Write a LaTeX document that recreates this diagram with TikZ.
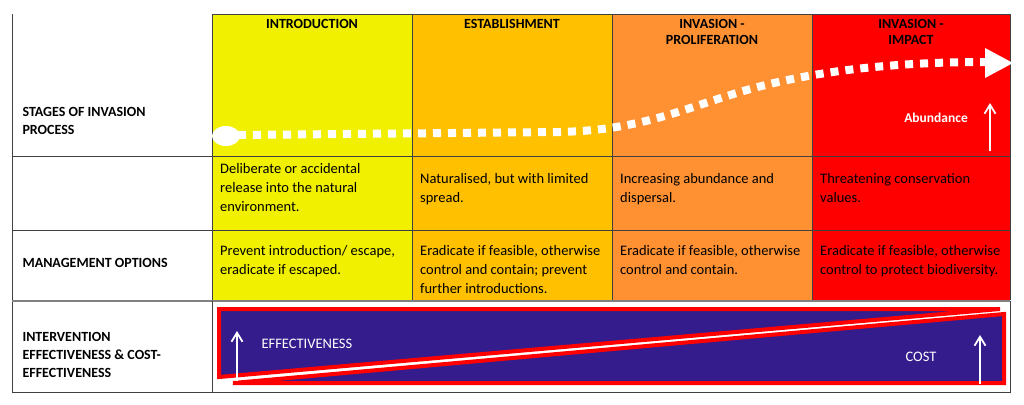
\documentclass[tikz,border=0pt]{standalone}
\usepackage{fontspec}
\setmainfont{Carlito}
\usetikzlibrary{arrows.meta}
\definecolor{cyel}{HTML}{F0F000}
\definecolor{cgold}{HTML}{FFC000}
\definecolor{corg}{HTML}{FF9133}
\definecolor{cred}{HTML}{FF0000}
\definecolor{cblue}{HTML}{341C8C}
\definecolor{cgrid}{HTML}{404040}
\begin{document}
\begin{tikzpicture}[x=1pt,y=-1pt,
  hdr/.style={font=\bfseries\fontsize{14}{16}\selectfont,align=center,anchor=north},
  lab/.style={font=\bfseries\fontsize{14}{18}\selectfont,align=left,anchor=west},
  txt/.style={font=\fontsize{14.5}{19}\selectfont,align=left,anchor=north west,inner sep=0pt},
  warrow/.style={white,line width=1.8pt,-{Straight Barb[length=9pt,width=11pt]}}]
\useasboundingbox (0,0) rectangle (1024,404);
\fill[white] (0,0) rectangle (1024,404);
\fill[cyel] (212,14) rectangle (412,300);
\fill[cgold] (412,14) rectangle (612,300);
\fill[corg] (612,14) rectangle (812,300);
\fill[cred] (812,14) rectangle (1010,300);
% grid
\draw[cgrid,line width=0.6pt] (212,14) -- (1010,14);
\foreach \x in {212,412,612,812,1010} \draw[cgrid,line width=0.6pt] (\x,14) -- (\x,300);
\draw[cgrid,line width=0.6pt] (12,14) -- (12,392);
\draw[cgrid,line width=0.6pt] (12,156) -- (1010,156);
\draw[cgrid,line width=0.6pt] (12,230) -- (1010,230);
\draw[gray,line width=1.5pt] (12,301) -- (1010,301);
\draw[cgrid,line width=0.6pt] (12,392) -- (1010,392) -- (1010,301);
\draw[cgrid,line width=0.6pt] (212,301) -- (212,392);
% headers
\node[hdr] (h1) at (312,16) {INTRODUCTION};
\node[hdr] (h2) at (512,16) {ESTABLISHMENT};
\node[hdr] (h3) at (712,16) {INVASION -\\PROLIFERATION};
\node[hdr] (h4) at (911,16) {INVASION -\\IMPACT};
% row labels
\node[lab] (l1) at (19,121) {STAGES OF INVASION\\PROCESS};
\node[lab] (l2) at (19,263) {MANAGEMENT OPTIONS};
\node[lab] (l3) at (19,355) {INTERVENTION\\EFFECTIVENESS \& COST-\\EFFECTIVENESS};
% descriptions
\node[txt] (d1) at (220,163) {Deliberate or accidental\\release into the natural\\environment.};
\node[txt] (d2) at (420,173) {Naturalised, but with limited\\spread.};
\node[txt] (d3) at (620,173) {Increasing abundance and\\dispersal.};
\node[txt] (d4) at (820,173) {Threatening conservation\\values.};
\node[txt] (m1) at (220,245) {Prevent introduction/ escape,\\eradicate if escaped.};
\node[txt] (m2) at (420,245) {Eradicate if feasible, otherwise\\control and contain; prevent\\further introductions.};
\node[txt] (m3) at (620,245) {Eradicate if feasible, otherwise\\control and contain.};
\node[txt] (m4) at (820,245) {Eradicate if feasible, otherwise\\control to protect biodiversity.};
% invasion curve
\fill[white] (226,136) ellipse (14pt and 10pt);
\coordinate (cs) at (238,135);
\coordinate (ce) at (985,62);
\draw[white,line width=8pt,dash pattern=on 8pt off 7pt] (cs) -- (560,132) .. controls (640,130) and (680,110) .. (740,92) .. controls (800,74) and (880,62) .. (ce);
\fill[white] (985,48) -- (1013,63) -- (985,78) -- cycle;
\node[font=\bfseries\fontsize{13.5}{15}\selectfont,text=white] (ab) at (936,118) {Abundance};
\coordinate (a1) at (990,151); \coordinate (a2) at (990,103);
\draw[warrow] (a1) -- (a2);
% intervention graphic
\draw[cred,line width=4pt,fill=cblue,line join=miter] (219,309) -- (1000,309) -- (219,377) -- cycle;
\draw[cred,line width=4pt,fill=cblue,line join=miter] (233,383) -- (1004,314) -- (1004,383) -- cycle;
\node[font=\fontsize{14.5}{16}\selectfont,text=white,anchor=west] (ef) at (258,344) {EFFECTIVENESS};
\node[font=\fontsize{14.5}{16}\selectfont,text=white] (co) at (921,357) {COST};
\coordinate (b1) at (237,381); \coordinate (b2) at (237,331);
\draw[warrow] (b1) -- (b2);
\coordinate (c1) at (980,384); \coordinate (c2) at (980,335);
\draw[warrow] (c1) -- (c2);
\end{tikzpicture}
\end{document}
